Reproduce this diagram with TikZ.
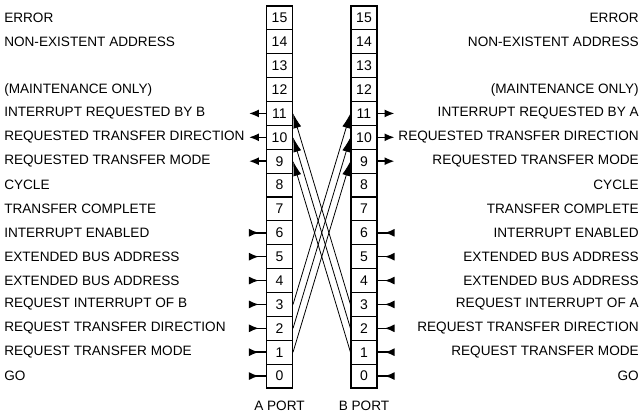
\documentclass[tikz,border=0pt]{standalone}
\usepackage{fontspec}
\setmainfont{Liberation Sans}
\usetikzlibrary{arrows.meta,positioning}

\begin{document}
\begin{tikzpicture}[x=0.75pt,y=0.75pt]
      \tikzstyle{bit}=[rectangle,draw,thick,inner sep=0pt,minimum width=19.5pt,minimum height=17.9pt,font=\fontsize{10.5}{12}\selectfont]
      \tikzstyle{lab}=[inner sep=0pt,font=\fontsize{10.2}{12}\selectfont]
      \tikzstyle{outarrow}=[line width=1.2pt,-{Latex[length=7.5pt,width=6pt]}]
      \tikzstyle{inarrow}=[line width=1.2pt,{Latex[reversed,length=7.5pt,width=6pt]}-]
      \tikzstyle{xarrow}=[semithick,-{Latex[length=11pt,width=6pt]}]
      \useasboundingbox (0,0) rectangle (643,418);
      % the two port registers
      \foreach \i in {0,...,15} {
        \node[bit] (a\i) at (279.5,{41.94+23.875*\i}) {\i};
        \node[bit] (b\i) at (364,{41.94+23.875*\i}) {\i};
        \path (a\i.west) ++(-17,0) coordinate (ea\i);
        \path (b\i.east) ++(17,0) coordinate (eb\i);
      }
      \node[lab,below=9.5pt of a0] (porta) {A PORT};
      \node[lab,below=9.5pt of b0] (portb) {B PORT};
      % A side
      \node[lab,anchor=west] (la15) at (4,0 |- a15) {ERROR};
      \node[lab,anchor=west] (la14) at (4,0 |- a14) {NON-EXISTENT ADDRESS};
      \node[lab,anchor=west] (la12) at (4,0 |- a12) {(MAINTENANCE ONLY)};
      \node[lab,anchor=west] (la11) at (4,0 |- a11) {INTERRUPT REQUESTED BY B};
      \node[lab,anchor=west] (la10) at (4,0 |- a10) {REQUESTED TRANSFER DIRECTION};
      \node[lab,anchor=west] (la9) at (4,0 |- a9) {REQUESTED TRANSFER MODE};
      \node[lab,anchor=west] (la8) at (4,0 |- a8) {CYCLE};
      \node[lab,anchor=west] (la7) at (4,0 |- a7) {TRANSFER COMPLETE};
      \node[lab,anchor=west] (la6) at (4,0 |- a6) {INTERRUPT ENABLED};
      \node[lab,anchor=west] (la5) at (4,0 |- a5) {EXTENDED BUS ADDRESS};
      \node[lab,anchor=west] (la4) at (4,0 |- a4) {EXTENDED BUS ADDRESS};
      \node[lab,anchor=west] (la3) at (4,0 |- a3) {REQUEST INTERRUPT OF B};
      \node[lab,anchor=west] (la2) at (4,0 |- a2) {REQUEST TRANSFER DIRECTION};
      \node[lab,anchor=west] (la1) at (4,0 |- a1) {REQUEST TRANSFER MODE};
      \node[lab,anchor=west] (la0) at (4,0 |- a0) {GO};
      % B side
      \node[lab,anchor=east] (lb15) at (639,0 |- b15) {ERROR};
      \node[lab,anchor=east] (lb14) at (639,0 |- b14) {NON-EXISTENT ADDRESS};
      \node[lab,anchor=east] (lb12) at (639,0 |- b12) {(MAINTENANCE ONLY)};
      \node[lab,anchor=east] (lb11) at (639,0 |- b11) {INTERRUPT REQUESTED BY A};
      \node[lab,anchor=east] (lb10) at (639,0 |- b10) {REQUESTED TRANSFER DIRECTION};
      \node[lab,anchor=east] (lb9) at (639,0 |- b9) {REQUESTED TRANSFER MODE};
      \node[lab,anchor=east] (lb8) at (639,0 |- b8) {CYCLE};
      \node[lab,anchor=east] (lb7) at (639,0 |- b7) {TRANSFER COMPLETE};
      \node[lab,anchor=east] (lb6) at (639,0 |- b6) {INTERRUPT ENABLED};
      \node[lab,anchor=east] (lb5) at (639,0 |- b5) {EXTENDED BUS ADDRESS};
      \node[lab,anchor=east] (lb4) at (639,0 |- b4) {EXTENDED BUS ADDRESS};
      \node[lab,anchor=east] (lb3) at (639,0 |- b3) {REQUEST INTERRUPT OF A};
      \node[lab,anchor=east] (lb2) at (639,0 |- b2) {REQUEST TRANSFER DIRECTION};
      \node[lab,anchor=east] (lb1) at (639,0 |- b1) {REQUEST TRANSFER MODE};
      \node[lab,anchor=east] (lb0) at (639,0 |- b0) {GO};
      % outputs and inputs
      \draw[outarrow] (a11.west)--(ea11);
      \draw[outarrow] (a10.west)--(ea10);
      \draw[outarrow] (a9.west)--(ea9);
      \draw[outarrow] (b11.east)--(eb11);
      \draw[outarrow] (b10.east)--(eb10);
      \draw[outarrow] (b9.east)--(eb9);
      \foreach \i in {0,...,6} {
        \draw[inarrow] (ea\i)--(a\i.west);
        \draw[inarrow] (eb\i)--(b\i.east);
      }
      % cross links
      \draw[xarrow] (a3.east)--(b11.west);
      \draw[xarrow] (a2.east)--(b10.west);
      \draw[xarrow] (a1.east)--(b9.west);
      \draw[xarrow] (b3.west)--(a11.east);
      \draw[xarrow] (b2.west)--(a10.east);
      \draw[xarrow] (b1.west)--(a9.east);
    \end{tikzpicture}
\end{document}
